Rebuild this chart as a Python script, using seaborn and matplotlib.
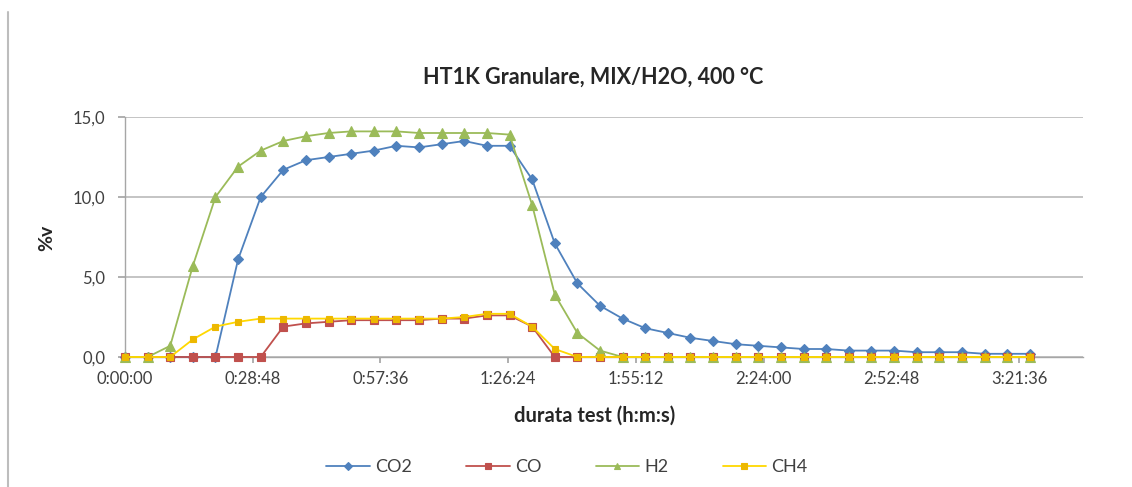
import matplotlib
matplotlib.use("Agg")
import matplotlib.pyplot as plt
from matplotlib.lines import Line2D
import seaborn as sns
import pandas as pd

# ---------------- data ----------------
times = ["0:00:00", "0:05:06", "0:10:12", "0:15:18", "0:20:24", "0:25:30", "0:30:36",
         "0:35:42", "0:40:48", "0:45:54", "0:51:00", "0:56:06", "1:01:12", "1:06:18",
         "1:11:24", "1:16:30", "1:21:36", "1:26:42", "1:31:48", "1:36:54", "1:42:00",
         "1:47:06", "1:52:12", "1:57:18", "2:02:24", "2:07:30", "2:12:36", "2:17:42",
         "2:22:48", "2:27:54", "2:33:00", "2:38:06", "2:43:12", "2:48:18", "2:53:24",
         "2:58:30", "3:03:36", "3:08:42", "3:13:48", "3:18:54", "3:24:00"]

co2 = [0.0, 0.0, 0.0, 0.0, 0.0, 6.1, 10.0, 11.7, 12.3, 12.5, 12.7, 12.9, 13.2, 13.1,
       13.3, 13.5, 13.2, 13.2, 11.1, 7.1, 4.6, 3.2, 2.4, 1.8, 1.5, 1.2, 1.0, 0.8,
       0.7, 0.6, 0.5, 0.5, 0.4, 0.4, 0.4, 0.3, 0.3, 0.3, 0.2, 0.2, 0.2]

co = [0.0, 0.0, 0.0, 0.0, 0.0, 0.0, 0.0, 1.9, 2.1, 2.2, 2.3, 2.3, 2.3, 2.3,
      2.4, 2.4, 2.6, 2.6, 1.9, 0.0, 0.0, 0.0, 0.0, 0.0, 0.0, 0.0, 0.0, 0.0,
      0.0, 0.0, 0.0, 0.0, 0.0, 0.0, 0.0, 0.0, 0.0, 0.0, 0.0, 0.0, 0.0]

h2 = [0.0, 0.0, 0.7, 5.7, 10.0, 11.9, 12.9, 13.5, 13.8, 14.0, 14.1, 14.1, 14.1, 14.0,
      14.0, 14.0, 14.0, 13.9, 9.5, 3.9, 1.5, 0.4, 0.0, 0.0, 0.0, 0.0, 0.0, 0.0,
      0.0, 0.0, 0.0, 0.0, 0.0, 0.0, 0.0, 0.0, 0.0, 0.0, 0.0, 0.0, 0.0]

ch4 = [0.0, 0.0, 0.0, 1.1, 1.9, 2.2, 2.4, 2.4, 2.4, 2.4, 2.4, 2.4, 2.4, 2.4,
       2.4, 2.5, 2.7, 2.7, 1.9, 0.5, 0.0, 0.0, 0.0, 0.0, 0.0, 0.0, 0.0, 0.0,
       0.0, 0.0, 0.0, 0.0, 0.0, 0.0, 0.0, 0.0, 0.0, 0.0, 0.0, 0.0, 0.0]

series_names = ["CO2", "CO", "H2", "CH4"]
x_tick_labels = ["0:00:00", "0:28:48", "0:57:36", "1:26:24", "1:55:12",
                 "2:24:00", "2:52:48", "3:21:36"]
y_ticks = [0.0, 5.0, 10.0, 15.0]

title = "HT1K Granulare, MIX/H2O, 400 °C"
x_label = "durata test (h:m:s)"
y_label = "%v"

# ---------------- style ----------------
sns.set_theme(style="white")
plt.rcParams['font.family'] = ['Lato', 'DejaVu Sans']

W, H = 1132, 487
fig = plt.figure(figsize=(W / 100, H / 100), dpi=100)
left, right, top, bottom = 125, 1083, 117, 357
ax = fig.add_axes([left / W, 1 - bottom / H, (right - left) / W, (bottom - top) / H])

t_min = pd.to_timedelta(times).total_seconds() / 60.0
tick_pos = pd.to_timedelta(x_tick_labels).total_seconds() / 60.0

styles = {
    "CO2": dict(color="#4F81BD", marker="D", markersize=5.2, mfc="#4F81BD", mec="#4F81BD"),
    "CO": dict(color="#C0504D", marker="s", markersize=5.5, mfc="#C0504D", mec="#C0504D"),
    "H2": dict(color="#9BBB59", marker="^", markersize=6.5, mfc="#9BBB59", mec="#9BBB59"),
    "CH4": dict(color="#FFD800", marker="s", markersize=5.0, mfc="#EDB800", mec="#EDB800"),
}
values = {"CO2": co2, "CO": co, "H2": h2, "CH4": ch4}

for name in series_names:
    st = styles[name]
    sns.lineplot(x=t_min, y=values[name], ax=ax, color=st["color"], marker=st["marker"],
                 markersize=st["markersize"], markerfacecolor=st["mfc"],
                 markeredgecolor=st["mec"], markeredgewidth=0.8, linewidth=1.3,
                 label=name, zorder=3, clip_on=False)

ax.set_xlim(0, 216)
ax.set_ylim(0, 15)
ax.set_xticks(tick_pos)
ax.set_xticklabels(x_tick_labels, fontsize=12, color="#404040")
ax.set_yticks(y_ticks)
ax.set_yticklabels([f"{v:.1f}".replace(".", ",") for v in y_ticks], fontsize=12, color="#404040")
ax.tick_params(axis="x", bottom=True, length=4, color="#A6A6A6", pad=6)
ax.tick_params(axis="y", left=True, length=5, color="#A6A6A6", pad=9)

ax.yaxis.grid(True, color="#BFBFBF", linewidth=1.3)
ax.xaxis.grid(False)
ax.set_axisbelow(True)
for s in ["top", "right"]:
    ax.spines[s].set_visible(False)
for s in ["left", "bottom"]:
    ax.spines[s].set_color("#A6A6A6")
    ax.spines[s].set_linewidth(1.0)
ax.set_xlabel("")
ax.set_ylabel("")

fig.text(593 / W, 1 - 77 / H, title, ha="center", va="center", fontsize=15.5,
         fontweight="bold", color="#262626")
fig.text(595 / W, 1 - 416 / H, x_label, ha="center", va="center", fontsize=14.5,
         fontweight="bold", color="#262626")
fig.text(47 / W, 1 - 238 / H, y_label, ha="center", va="center", fontsize=14,
         fontweight="bold", color="#262626", rotation=90)

ax.legend(loc="center", bbox_to_anchor=(567 / W, 1 - 467 / H), bbox_transform=fig.transFigure,
          ncol=4, frameon=False, handlelength=2.4, columnspacing=3.0, handletextpad=0.3,
          markerscale=0.75, prop={"size": 13})
for txt in ax.get_legend().get_texts():
    txt.set_color("#404040")

fig.add_artist(Line2D([8 / W, 8 / W], [0, 1 - 12 / H], color="#BDBDBD", linewidth=1.5))

fig.savefig("out.png", dpi=100)
